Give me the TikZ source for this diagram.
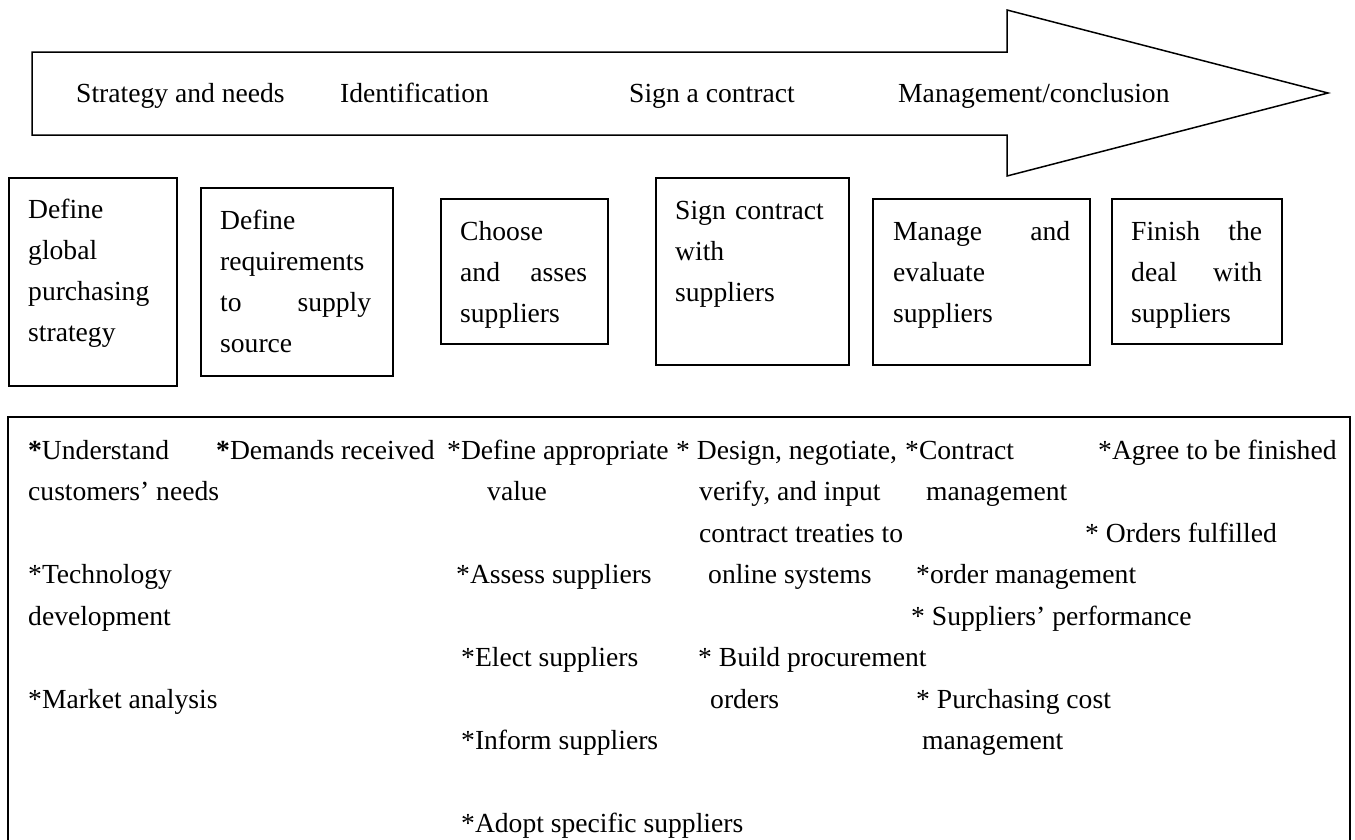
\documentclass[tikz,border=0pt]{standalone}
\usepackage{fontspec}
\setmainfont{Liberation Serif}
\usetikzlibrary{calc}
\tikzset{
  frame/.style={draw, line width=1.5pt, anchor=north west, inner sep=0pt},
  boxtext/.style={anchor=base west, inner sep=0pt, align=left,
    font=\fontsize{27.6}{41}\selectfont},
  item/.style={anchor=base west, inner sep=0pt,
    font=\fontsize{27.6}{41}\selectfont}
}

\begin{document}
\begin{tikzpicture}[x=1pt,y=-1pt]
    \useasboundingbox (0,0) rectangle (1355,839);
    % phase arrow
    \draw[line width=1.5pt] (32,52) -- (1007,52) -- (1007,10) -- (1328,93)
        -- (1007,176) -- (1007,135) -- (32,135) -- cycle;
    \node[item] (p1) at (76,102) {Strategy and needs};
    \node[item] (p2) at (340,102) {Identification};
    \node[item] (p3) at (629,102) {Sign a contract};
    \node[item] (p4) at (898,102) {Management/conclusion};
    % steps
    \node[frame, minimum width=168, minimum height=208] (b1) at (8,177) {};
    \node[boxtext, text width=130pt] (t1) at (28,218)
        {Define\\global\\purchasing\\strategy};
    \node[frame, minimum width=192, minimum height=188] (b2) at (200,187) {};
    \node[boxtext, text width=151pt] (t2) at (220,229)
        {Define\\requirements\\to\hfill supply\\source};
    \node[frame, minimum width=167, minimum height=145] (b3) at (440,198) {};
    \node[boxtext, text width=127pt] (t3) at (460,240)
        {Choose\\and\hfill asses\\suppliers};
    \node[frame, minimum width=193, minimum height=187] (b4) at (655,177) {};
    \node[boxtext, text width=153pt] (t4) at (675,219)
        {Sign contract\\with\\suppliers};
    \node[frame, minimum width=217, minimum height=166] (b5) at (872,198) {};
    \node[boxtext, text width=177pt] (t5) at (893,240)
        {Manage\hfill and\\evaluate\\suppliers};
    \node[frame, minimum width=170, minimum height=145] (b6) at (1111,198) {};
    \node[boxtext, text width=131pt] (t6) at (1131,240)
        {Finish\hfill the\\deal\hfill with\\suppliers};
    % activities
    \node[frame, minimum width=1342, minimum height=440] (acts) at (7,416) {};
    \foreach \x/\l/\t [count=\i] in {
        28/0/{\textbf{*}Understand}, 28/1/{customers’ needs},
        28/3/{*Technology}, 28/4/{development}, 28/6/{*Market analysis},
        216/0/{\textbf{*}Demands received},
        447/0/{*Define appropriate}, 487/1/{value},
        456/3/{*Assess suppliers}, 461/5/{*Elect suppliers},
        461/7/{*Inform suppliers}, 461/9/{*Adopt specific suppliers},
        676/0/{* Design, negotiate,}, 699/1/{verify, and input},
        699/2/{contract treaties to}, 708/3/{online systems},
        698/5/{* Build procurement}, 710/6/{orders},
        905/0/{*Contract}, 926/1/{management}, 916/3/{*order management},
        911/4/{* Suppliers’ performance}, 916/6/{* Purchasing cost},
        922/7/{management},
        1098/0/{*Agree to be finished}, 1085/2/{* Orders fulfilled}}
    \node[item] (a\i) at (\x,{459+41.5*\l}) {\t};
\end{tikzpicture}
\end{document}
